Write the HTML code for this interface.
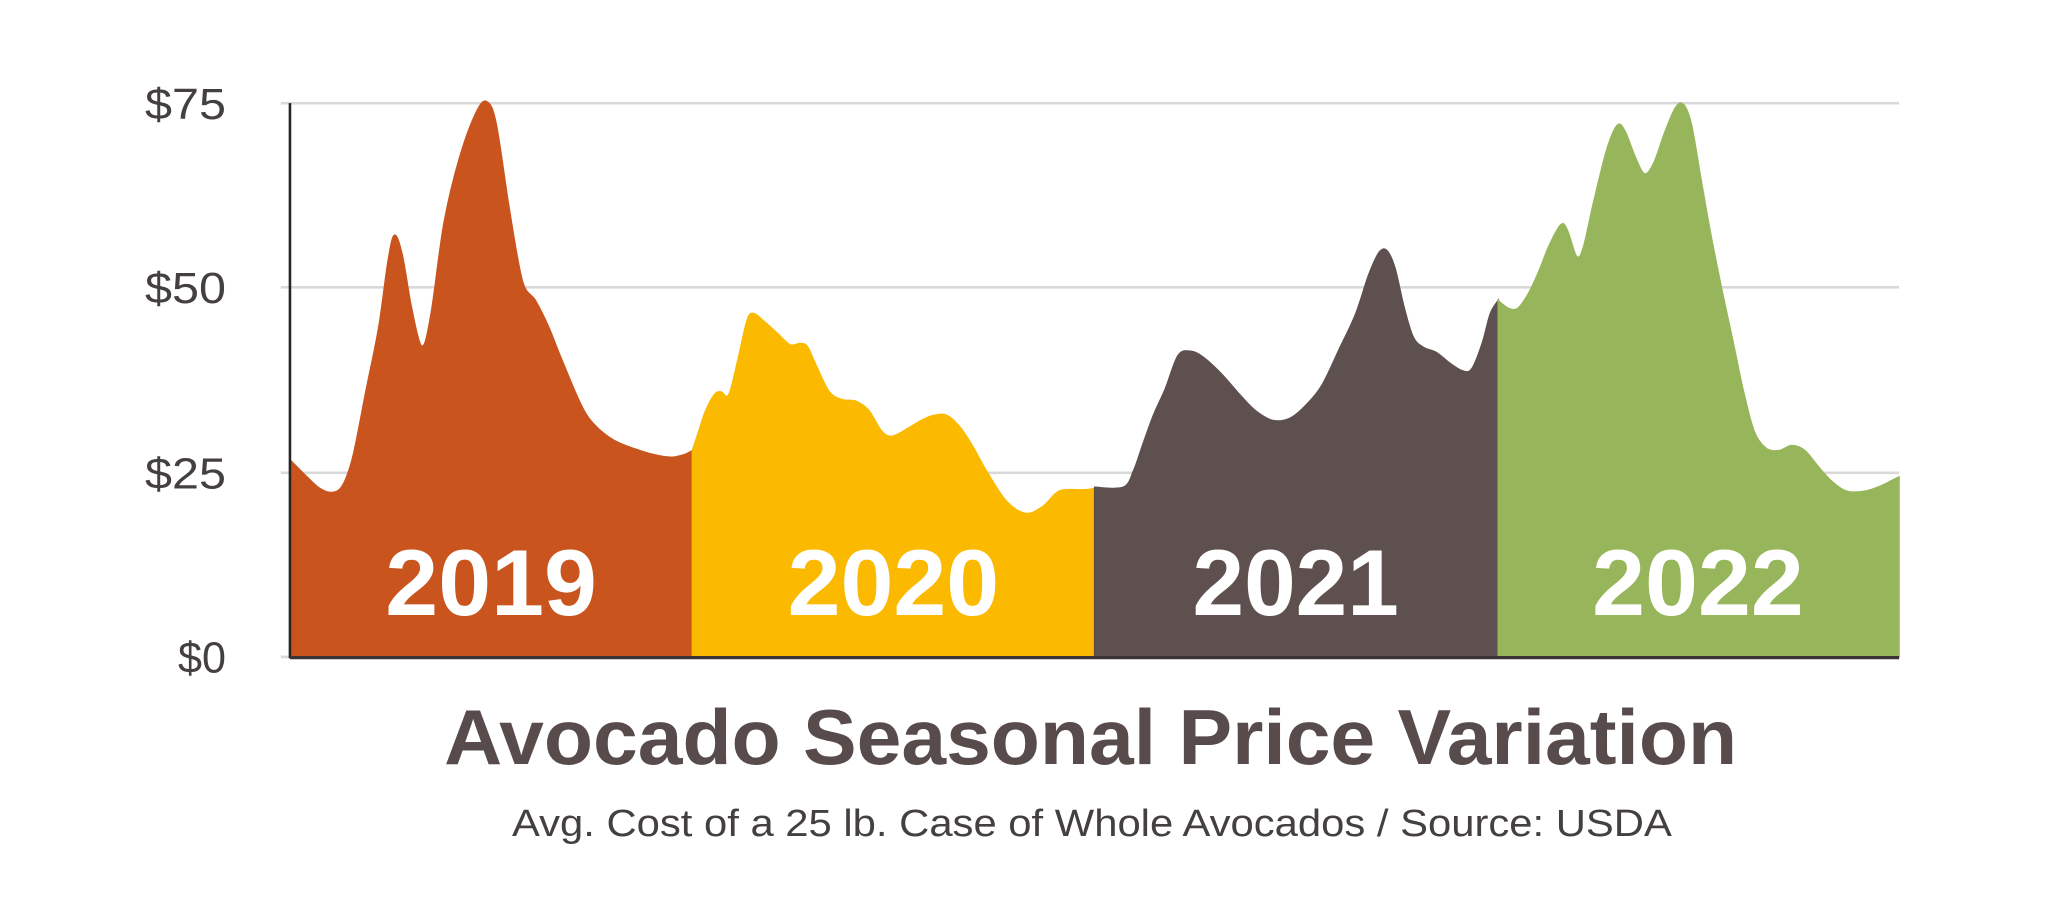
<!DOCTYPE html>
<html><head><meta charset="utf-8"><style>
html,body{margin:0;padding:0;background:#fff;}
svg{display:block;}
</style></head><body>
<svg id="s" width="2048" height="903" viewBox="0 0 1568 691.4" preserveAspectRatio="none" xmlns="http://www.w3.org/2000/svg">
<rect x="0" y="0" width="1568" height="691.4" fill="#fff"/>
<g stroke="#d9d9d9" stroke-width="2">
<line x1="215" y1="79" x2="1454" y2="79"/>
<line x1="215" y1="220" x2="1454" y2="220"/>
<line x1="215" y1="362" x2="1454" y2="362"/>
<line x1="215" y1="503" x2="1454" y2="503"/>
</g>
<g font-family="Liberation Sans, sans-serif" font-size="33" fill="#454040" text-anchor="end">
<text x="173" y="91" textLength="62" lengthAdjust="spacingAndGlyphs">$75</text>
<text x="173" y="232" textLength="62" lengthAdjust="spacingAndGlyphs">$50</text>
<text x="173" y="374" textLength="62" lengthAdjust="spacingAndGlyphs">$25</text>
<text x="173" y="515">$0</text>
</g>
<polygon class="sm" fill="#c9541e" stroke="#c9541e" stroke-linejoin="round" points="222,503 222,352 235,365 245,374 254,377 262,372 270,350 280,300 290,250 297,200 302,180 308,195 315,235 323,265 330,240 340,170 352,120 365,85 373,78 380,95 390,160 400,215 410,230 420,250 430,275 445,310 455,325 470,337 490,345 505,349 515,350 524,348 530,345 530,503"/>
<polygon class="sm" fill="#fbb900" stroke="#fbb900" stroke-linejoin="round" points="530,503 530,345 535,330 540,315 547,302 552,300 558,302 565,275 572,245 577,240 585,246 595,255 605,264 612,263 618,265 625,280 635,300 645,306 655,307 665,314 675,330 683,334 695,328 705,322 715,318 725,318 735,327 745,342 755,360 770,383 785,393 798,388 808,378 815,375 830,375 838,374 838,503"/>
<polygon class="sm" fill="#5d504f" stroke="#5d504f" stroke-linejoin="round" points="838,503 838,373 860,373 868,360 875,340 883,318 892,298 902,272 912,269 922,274 935,286 950,303 962,315 975,322 988,320 1000,310 1012,295 1025,268 1038,240 1048,210 1056,193 1062,192 1068,205 1075,235 1082,258 1090,266 1100,270 1110,278 1120,284 1127,282 1135,262 1141,240 1147,230 1147,503"/>
<polygon class="sm" fill="#97b65b" stroke="#97b65b" stroke-linejoin="round" points="1147,503 1147,230 1155,236 1162,236 1170,225 1178,208 1186,188 1195,172 1200,176 1207,196 1212,190 1220,155 1230,115 1238,96 1244,100 1252,120 1259,133 1266,125 1275,100 1283,82 1289,80 1295,95 1302,135 1310,180 1318,220 1327,262 1335,300 1343,330 1352,343 1362,345 1372,341 1382,345 1392,357 1402,368 1414,376 1428,376 1440,372 1448,368 1454,365 1454,503"/>
<line x1="222" y1="79" x2="222" y2="504" stroke="#2a2424" stroke-width="2"/>
<line x1="222" y1="503.5" x2="1454" y2="503.5" stroke="#3a3434" stroke-width="2.5"/>
<g font-family="Liberation Sans, sans-serif" font-weight="bold" font-size="72" fill="#fff" text-anchor="middle">
<text x="376" y="471" textLength="162" lengthAdjust="spacingAndGlyphs">2019</text>
<text x="684" y="471" textLength="162" lengthAdjust="spacingAndGlyphs">2020</text>
<text x="992" y="471" textLength="158" lengthAdjust="spacingAndGlyphs">2021</text>
<text x="1300" y="471" textLength="162" lengthAdjust="spacingAndGlyphs">2022</text>
</g>
<text x="835" y="585" font-family="Liberation Sans, sans-serif" font-weight="bold" font-size="60" fill="#574b4b" text-anchor="middle" textLength="990" lengthAdjust="spacingAndGlyphs">Avocado Seasonal Price Variation</text>
<text x="836" y="640" font-family="Liberation Sans, sans-serif" font-size="29" fill="#454040" text-anchor="middle" textLength="888" lengthAdjust="spacingAndGlyphs">Avg. Cost of a 25 lb. Case of Whole Avocados / Source: USDA</text>
</svg>
<script>
document.querySelectorAll('polygon.sm').forEach(function(pg){
  var nums=pg.getAttribute('points').trim().split(/\s+/).map(function(s){var a=s.split(',');return [+a[0],+a[1]];});
  var base0=nums[0], base1=nums[nums.length-1];
  var p=nums.slice(1,nums.length-1);
  var d='M'+base0[0]+','+base0[1]+' L'+p[0][0]+','+p[0][1];
  for(var i=0;i<p.length-1;i++){
    var p0=p[i-1]||p[i], p1=p[i], p2=p[i+1], p3=p[i+2]||p2;
    var c1x=p1[0]+(p2[0]-p0[0])/6, c1y=p1[1]+(p2[1]-p0[1])/6;
    var c2x=p2[0]-(p3[0]-p1[0])/6, c2y=p2[1]-(p3[1]-p1[1])/6;
    d+=' C'+c1x.toFixed(1)+','+c1y.toFixed(1)+' '+c2x.toFixed(1)+','+c2y.toFixed(1)+' '+p2[0]+','+p2[1];
  }
  d+=' L'+base1[0]+','+base1[1]+' Z';
  var path=document.createElementNS('http://www.w3.org/2000/svg','path');
  path.setAttribute('d',d);
  path.setAttribute('fill',pg.getAttribute('fill'));
  path.setAttribute('stroke',pg.getAttribute('stroke'));
  path.setAttribute('stroke-width','1');
  pg.parentNode.replaceChild(path,pg);
});
</script>
</body></html>
